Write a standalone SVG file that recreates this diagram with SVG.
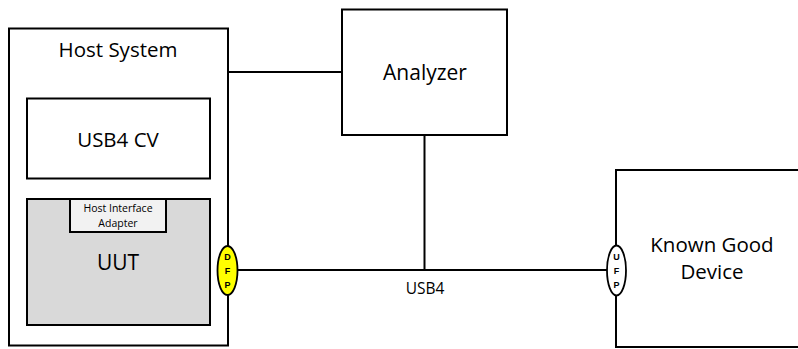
<svg xmlns="http://www.w3.org/2000/svg" width="798" height="349" viewBox="0 0 798 349">
<style>
.box{fill:#ffffff;stroke:#000;stroke-width:2}
.t{font-family:"Open Sans","Liberation Sans",sans-serif;fill:#000;text-anchor:middle}
.ln{stroke:#000;stroke-width:2;fill:none}
.port{font-family:"Liberation Sans",sans-serif;font-weight:bold;font-size:9px;text-anchor:middle;fill:#000}
</style>
<rect width="798" height="349" fill="#fff"/>
<g id="connectors">
<line class="ln" x1="228" y1="72" x2="342" y2="72"/>
<line class="ln" x1="424.5" y1="135" x2="424.5" y2="270"/>
<line class="ln" x1="237" y1="270" x2="607" y2="270"/>
<line class="ln" x1="118" y1="178" x2="118" y2="199"/>
<text class="t" x="425" y="294" font-size="15.5">USB4</text>
</g>
<g id="host">
<rect class="box" x="9" y="28.5" width="219" height="317"/>
<text class="t" x="118" y="57" font-size="20.5">Host System</text>
</g>
<g id="usb4cv">
<rect class="box" x="27" y="98.5" width="183" height="80"/>
<text class="t" x="118" y="147" font-size="20.5">USB4 CV</text>
</g>
<g id="uut">
<rect x="27" y="199" width="183" height="126" fill="#d9d9d9" stroke="#000" stroke-width="2"/>
<text class="t" x="118" y="270" font-size="21">UUT</text>
</g>
<g id="hia">
<rect x="70" y="199" width="96" height="33" fill="#f2f2f2" stroke="#000" stroke-width="2"/>
<text class="t" x="118" y="212" font-size="10.5">Host Interface</text>
<text class="t" x="118" y="226.5" font-size="10.5">Adapter</text>
</g>
<g id="dfp">
<ellipse cx="227.5" cy="270.5" rx="10" ry="24.5" fill="#ffff00" stroke="#000" stroke-width="1.8"/>
<text class="port" x="227.5" y="260">D</text>
<text class="port" x="227.5" y="274">F</text>
<text class="port" x="227.5" y="288">P</text>
</g>
<g id="analyzer">
<rect class="box" x="342" y="9.5" width="165" height="125.5"/>
<text class="t" x="425" y="80" font-size="21">Analyzer</text>
</g>
<g id="kgd">
<rect class="box" x="616" y="170" width="190" height="177"/>
<text class="t" x="712" y="252" font-size="20.5">Known Good</text>
<text class="t" x="712" y="279" font-size="20.5">Device</text>
</g>
<g id="ufp">
<ellipse cx="616.5" cy="270.5" rx="9.5" ry="25" fill="#ffffff" stroke="#000" stroke-width="1.8"/>
<text class="port" x="616.5" y="260">U</text>
<text class="port" x="616.5" y="274">F</text>
<text class="port" x="616.5" y="288">P</text>
</g>
</svg>
